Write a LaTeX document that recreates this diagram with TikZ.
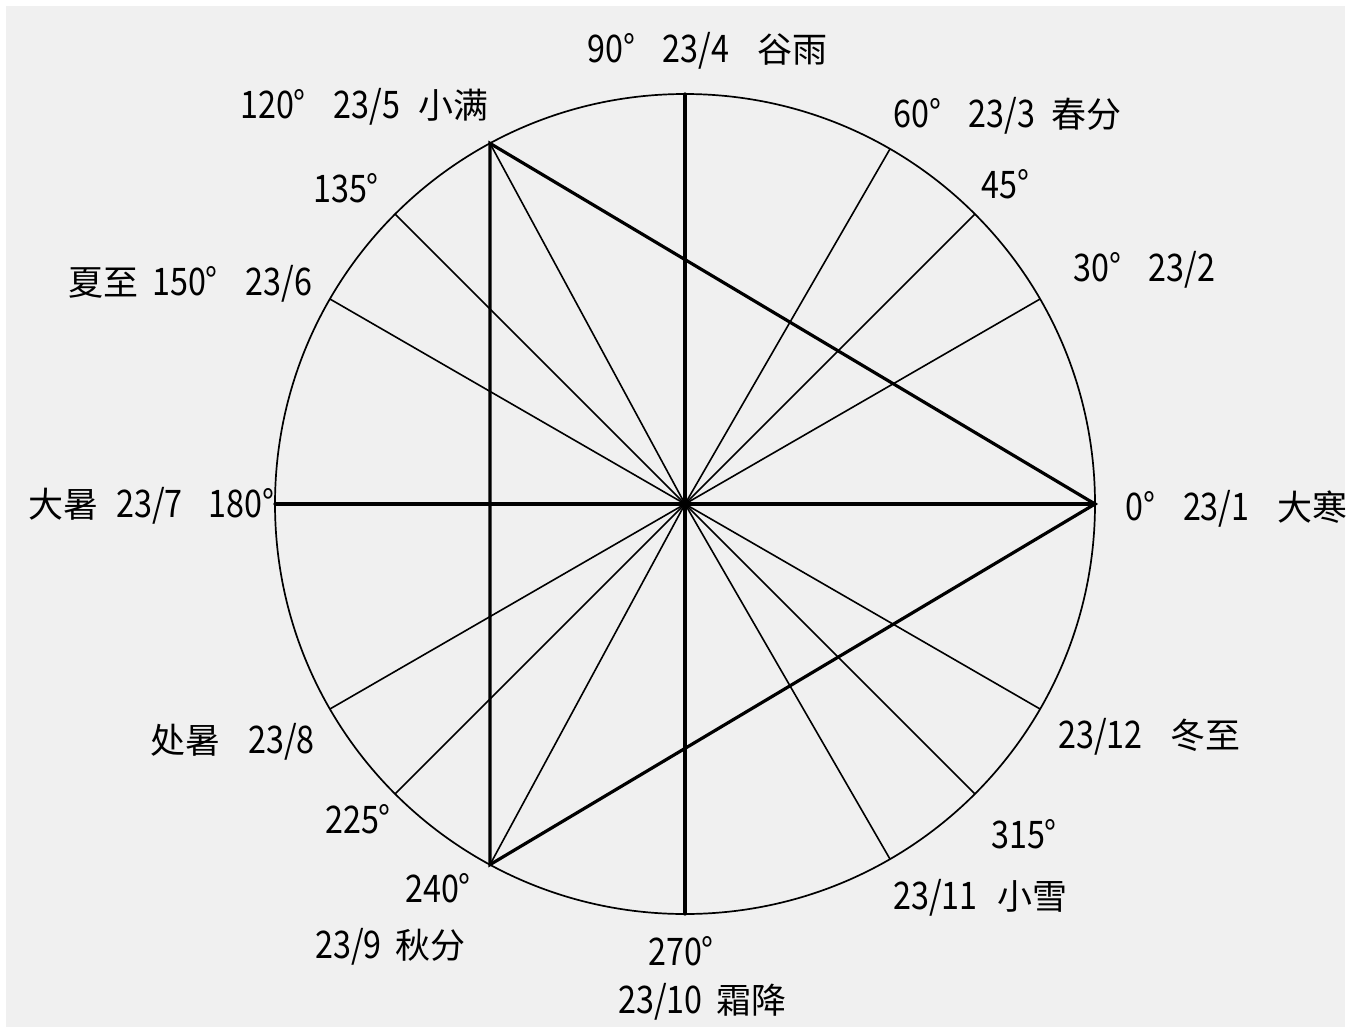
\documentclass[tikz,border=0pt]{standalone}
\usepackage{fontspec}
\newfontfamily\cjkf{Noto Sans CJK SC}
\newfontfamily\dig[FakeStretch=0.85]{Noto Sans CJK SC}
\newcommand{\cj}[1]{{\fontsize{35}{35}\selectfont\cjkf #1}}
\newcommand{\gd}{\hspace{28pt}}
\newcommand{\gc}{\hspace{28pt}}
\begin{document}
\begin{tikzpicture}[x=1pt,y=-1pt,
  lab/.style={anchor=base west, inner sep=0pt, font=\fontsize{38}{38}\selectfont\dig},
  thickl/.style={line width=3.2pt, line cap=round},
  thinl/.style={line width=1.6pt},
  rim/.style={line width=1.7pt}]
\useasboundingbox (0,0) rectangle (1351,1033);
\fill[white] (0,0) rectangle (1351,1033);
\fill[black!6] (6,6) rectangle (1345,1027);
\coordinate (c) at (685,504);
\foreach \a in {0,30,45,60,90,135,150,180,210,225,270,300,315,330}{
  \coordinate (p\a) at ({685+410*cos(\a)},{504-410*sin(\a)});
}
\coordinate (p120) at ({685+410*cos(118.4)},{504-410*sin(118.4)});
\coordinate (p240) at ({685+410*cos(241.6)},{504-410*sin(241.6)});
\draw[rim] (c) circle[radius=410];
\foreach \a in {30,45,60,120,135,150,210,225,240,300,315,330}{
  \draw[thinl] (c) -- (p\a);
}
\draw[thickl] (p0) -- (p180);
\draw[thickl] (p90) -- (p270);
\draw[thickl] (p0) -- (p120) -- (p240) -- cycle;

\node[lab] (l90) at (587,63) {90°\gd 23/4\gc\cj{谷雨}};
\node[lab] (l120) at (240,118) {120°\gd 23/5\hspace{18pt}\cj{小满}};
\node[lab] (l60) at (893,127) {60°\gd 23/3\hspace{16pt}\cj{春分}};
\node[lab] (l45) at (981,198) {45°};
\node[lab] (l30) at (1073,281) {30°\gd 23/2};
\node[lab] (l135) at (313,202) {135°};
\node[lab] (l150) at (68,295) {\cj{夏至}\hspace{14pt}150°\gd 23/6};
\node[lab] (l180) at (28,517) {\cj{大暑}\hspace{18pt}23/7\hspace{26pt}180°};
\node[lab] (l210) at (150,753) {\cj{处暑}\gc 23/8};
\node[lab] (l225) at (325,833) {225°};
\node[lab] (l240) at (405,902) {240°};
\node[lab] (l240b) at (315,958) {23/9\hspace{14pt}\cj{秋分}};
\node[lab] (l270) at (648,965) {270°};
\node[lab] (l270b) at (618,1013) {23/10\hspace{14pt}\cj{霜降}};
\node[lab] (l300) at (893,909) {23/11\hspace{20pt}\cj{小雪}};
\node[lab] (l315) at (991,848) {315°};
\node[lab] (l330) at (1058,748) {23/12\gc\cj{冬至}};
\node[lab] (l0) at (1125,520) {0°\gd 23/1\gc\cj{大寒}};
\end{tikzpicture}
\end{document}
